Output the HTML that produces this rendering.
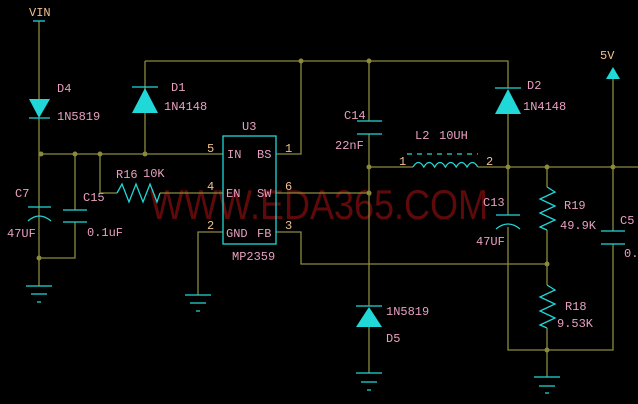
<!DOCTYPE html>
<html><head><style>
html,body{margin:0;padding:0;background:#000;}
svg{display:block;}
text{font-family:"Liberation Mono","DejaVu Sans Mono",monospace;}
</style></head><body>
<svg width="638" height="404" viewBox="0 0 638 404" xmlns="http://www.w3.org/2000/svg">
<rect width="638" height="404" fill="#000"/>
<text x="150" y="219" font-size="42" fill="#5e0a0a" style="font-family:'Liberation Sans',sans-serif" textLength="338" lengthAdjust="spacingAndGlyphs">WWW.EDA365.COM</text>
<g stroke="#8a8a3c" stroke-width="1.3" fill="none">
<path d="M39 21V99 M39 118V286"/>
<path d="M39 154H223"/>
<path d="M145 61V154 M145 61H508V88"/>
<path d="M276 154H301V61"/>
<path d="M276 193H369"/>
<path d="M369 61V121 M369 134V306 M369 327V373"/>
<path d="M100 154V193H117 M160 193H223"/>
<path d="M75 154V210 M75 222V258H39"/>
<path d="M223 232H198V295"/>
<path d="M276 232H301V264H547"/>
<path d="M369 167H413 M478 167H638"/>
<path d="M508 114V215 M508 227V350H613V244 M613 231V79"/>
<path d="M547 167V187 M547 230V285 M547 328V377"/>
</g>
<g stroke="#20d8d8" stroke-width="1.3" fill="none">
<path d="M33 21H45"/>
<path d="M29 118H50"/>
<path d="M132 87H158"/>
<path d="M495 88H521"/>
<path d="M356 306H382"/>
<rect x="223" y="136" width="53" height="108"/>
<path d="M28 207H51 M28 221Q39 211 51 221"/>
<path d="M63 210H87 M63 222H87"/>
<path d="M357 121H382 M357 134H382"/>
<path d="M496 215H520 M496 229Q508 219 520 229"/>
<path d="M601 231H625 M601 244H625"/>
<path d="M117 193L122 184L129 202L136 184L143 202L150 184L157 202L160 193"/>
<path d="M547 187L555 192L540 199L555 206L540 213L555 220L540 227L547 230"/>
<path d="M547 285L555 290L540 297L555 304L540 311L555 318L540 325L547 328"/>
<path d="M413 167q5.4-9 10.8 0q5.4-9 10.8 0q5.4-9 10.8 0q5.4-9 10.8 0q5.4-9 10.8 0q5.4-9 10.8 0"/>
<path d="M407 154H478" stroke-dasharray="5,5"/>
<path d="M26 286H52 M31 294H47 M37 302H41"/>
<path d="M185 295H211 M190 303H206 M196 311H200"/>
<path d="M356 373H382 M361 382H377 M367 390H371"/>
<path d="M534 377H560 M539 386H555 M545 393H549"/>
</g>
<g fill="#20d8d8">
<polygon points="29,99 50,99 39,118"/>
<polygon points="132,113 158,113 145,88"/>
<polygon points="495,114 521,114 508,89"/>
<polygon points="356,327 382,327 369,307"/>
<polygon points="606,79 620,79 613,67"/>
</g>
<g fill="#8a8a3c">
<circle cx="41" cy="154" r="2.5"/><circle cx="75" cy="154" r="2.5"/><circle cx="100" cy="154" r="2.5"/><circle cx="145" cy="154" r="2.5"/>
<circle cx="301" cy="61" r="2.5"/><circle cx="369" cy="61" r="2.5"/>
<circle cx="369" cy="167" r="2.5"/><circle cx="369" cy="193" r="2.5"/>
<circle cx="508" cy="167" r="2.5"/><circle cx="547" cy="167" r="2.5"/><circle cx="613" cy="167" r="2.5"/>
<circle cx="547" cy="264" r="2.5"/><circle cx="547" cy="350" r="2.5"/><circle cx="39" cy="258" r="2.5"/>
</g>
<g font-size="12" fill="#e8a0c0">
<text x="29" y="16" fill="#f0c090">VIN</text>
<text x="57" y="92">D4</text>
<text x="57" y="120">1N5819</text>
<text x="171" y="91">D1</text>
<text x="164" y="110">1N4148</text>
<text x="242" y="130">U3</text>
<text x="227" y="158">IN</text>
<text x="257" y="158">BS</text>
<text x="226" y="197">EN</text>
<text x="257" y="197">SW</text>
<text x="226" y="237">GND</text>
<text x="257" y="237">FB</text>
<text x="232" y="260">MP2359</text>
<text x="116" y="178">R16</text>
<text x="143" y="177">10K</text>
<text x="83" y="201">C15</text>
<text x="87" y="236">0.1uF</text>
<text x="15" y="197">C7</text>
<text x="7" y="237">47UF</text>
<text x="344" y="119">C14</text>
<text x="335" y="149">22nF</text>
<text x="415" y="139">L2</text>
<text x="439" y="139">10UH</text>
<text x="527" y="89">D2</text>
<text x="523" y="110">1N4148</text>
<text x="483" y="206">C13</text>
<text x="476" y="245">47UF</text>
<text x="564" y="209">R19</text>
<text x="560" y="229">49.9K</text>
<text x="565" y="310">R18</text>
<text x="557" y="327">9.53K</text>
<text x="620" y="224">C5</text>
<text x="624" y="257">0.</text>
<text x="386" y="315">1N5819</text>
<text x="386" y="342">D5</text>
</g>
<g font-size="12" fill="#f0c090">
<text x="600" y="59">5V</text>
<text x="207" y="152">5</text>
<text x="285" y="152">1</text>
<text x="207" y="190">4</text>
<text x="285" y="190">6</text>
<text x="207" y="229">2</text>
<text x="285" y="229">3</text>
<text x="399" y="165">1</text>
<text x="486" y="165">2</text>
</g>
</svg>
</body></html>
